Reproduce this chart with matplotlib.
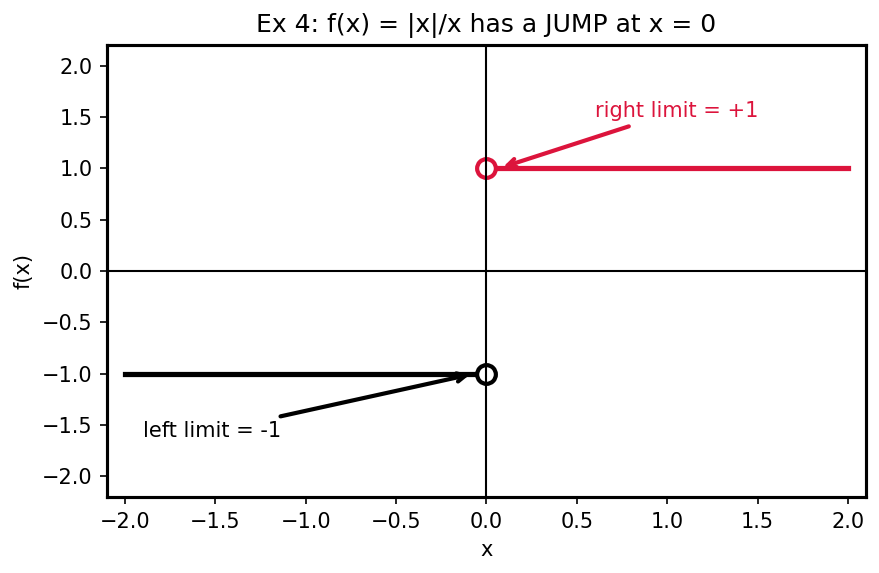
import numpy as np
import matplotlib.pyplot as plt

# data
x_left = [-2.0, 0.0]
y_left = [-1.0, -1.0]
x_right = [0.0, 2.0]
y_right = [1.0, 1.0]
left_label = "left limit = -1"
right_label = "right limit = +1"

fig = plt.figure(figsize=(880 / 150, 573 / 150), dpi=150)
ax = fig.add_axes([107 / 880, 1 - 497 / 573, (866 - 107) / 880, (497 - 45) / 573])

ax.plot(x_left, y_left, color="black", lw=2.5)
ax.plot(x_right, y_right, color="crimson", lw=2.5)
ax.plot(0, -1, "o", ms=9, mfc="white", mec="black", mew=2)
ax.plot(0, 1, "o", ms=9, mfc="white", mec="crimson", mew=2)

ax.axhline(0, color="black", lw=1)
ax.axvline(0, color="black", lw=1)

ax.annotate(right_label, xy=(0.07, 1.0), xytext=(0.6, 1.5), color="crimson",
            arrowprops=dict(arrowstyle="->", color="crimson", lw=2))
ax.annotate(left_label, xy=(-0.07, -1.0), xytext=(-1.9, -1.62), color="black",
            arrowprops=dict(arrowstyle="->", color="black", lw=2))

ax.set_xlim(-2.1, 2.1)
ax.set_ylim(-2.2, 2.2)
ax.set_xticks(np.arange(-2, 2.01, 0.5))
ax.set_yticks(np.arange(-2, 2.01, 0.5))
ax.set_xlabel("x")
ax.set_ylabel("f(x)")
ax.set_title("Ex 4: f(x) = |x|/x has a JUMP at x = 0", fontsize=12)
for s in ax.spines.values():
    s.set_linewidth(1.5)

fig.savefig("out.png", dpi=150)
